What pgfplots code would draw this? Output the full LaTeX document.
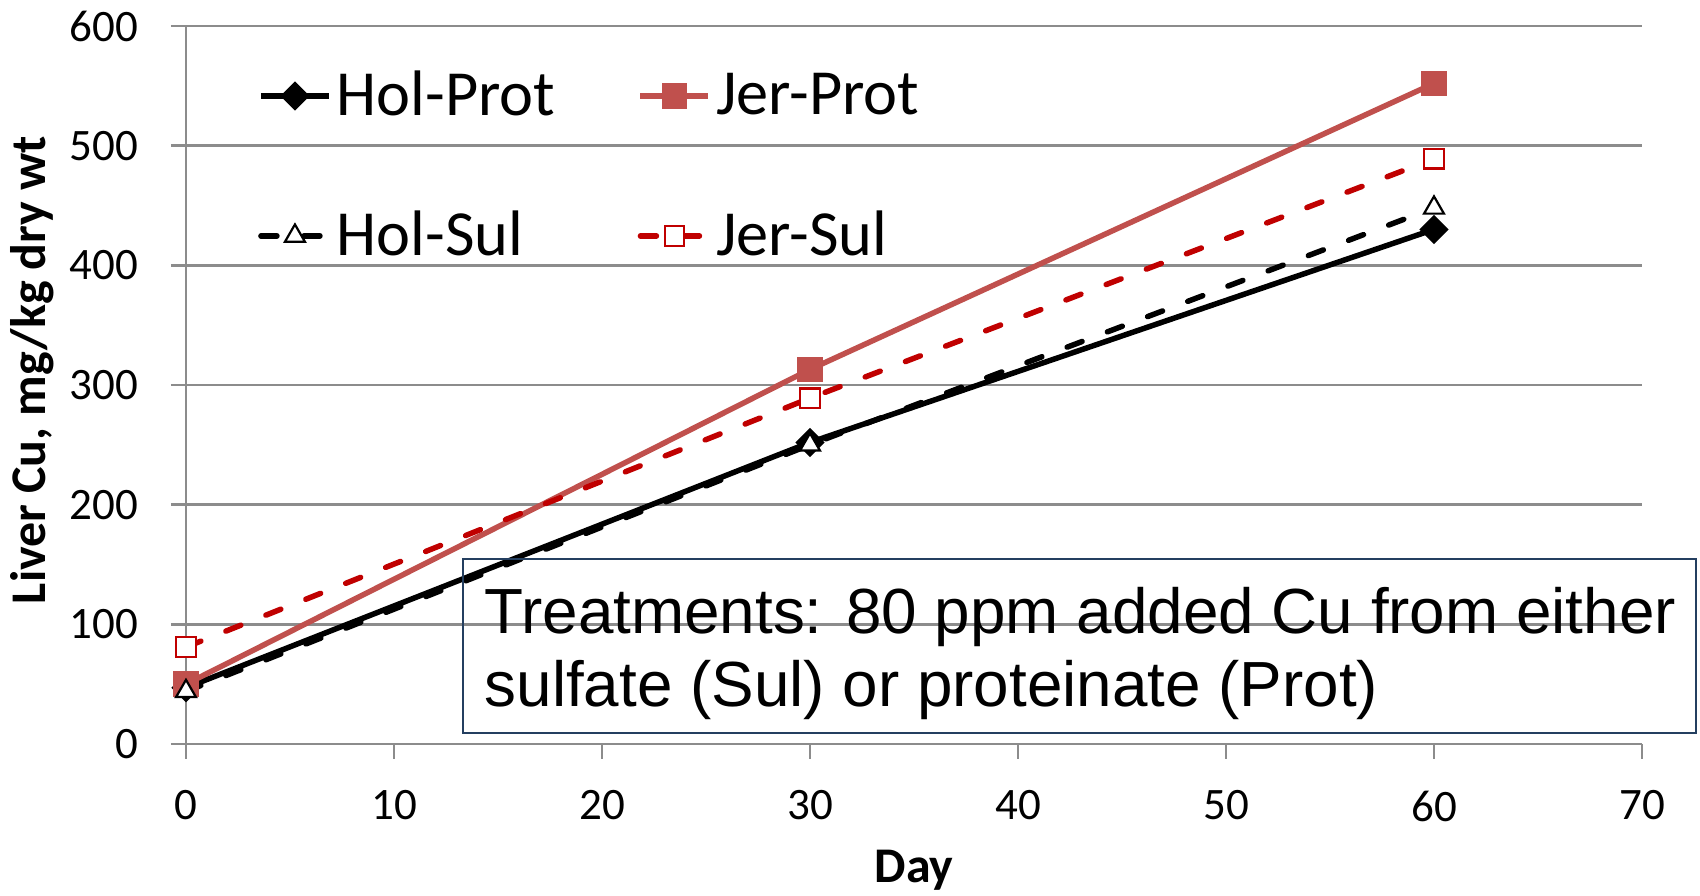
\documentclass[border=0pt]{standalone}
\usepackage{fontspec}
\setmainfont{Carlito}
\newfontfamily\arialfont{Liberation Sans}
\usepackage{pgfplots}
\pgfplotsset{compat=1.18}
\definecolor{jerprot}{HTML}{C0504D}
\definecolor{jersul}{HTML}{C00000}
\definecolor{boxcol}{HTML}{243F60}
\definecolor{gridc}{HTML}{8C8C8C}
\begin{document}
\begin{tikzpicture}
\path[use as bounding box] (-18.6mm,-15.2mm) rectangle (151.4mm,74.4mm);
\begin{axis}[
  at={(0,0)}, anchor=south west,
  scale only axis, width=145.6mm, height=71.8mm,
  xmin=0, xmax=70, ymin=0, ymax=600,
  xtick distance=10, ytick distance=100,
  axis x line*=bottom, axis y line*=left,
  axis line style={gridc, line width=0.25mm},
  ymajorgrids, grid style={gridc, line width=0.25mm},
  tick style={gridc, line width=0.25mm},
  tick align=outside, major tick length=1.5mm,
  /pgf/number format/assume math mode=true,
  ticklabel style={font=\fontsize{12.8}{15}\selectfont, inner sep=0pt},
  yticklabel shift=3.2mm, xticklabel shift=3.1mm,
  xlabel={Day}, ylabel={Liver Cu, mg/kg dry wt},
  label style={font=\bfseries\fontsize{14.2}{16}\selectfont},
  xlabel style={at={(axis description cs:0.5,-0.1755)}, anchor=center},
  ylabel style={at={(axis description cs:-0.1054,0.521)}, anchor=center},
  legend columns=2,
  legend image code/.code={\draw[mark repeat=2,mark phase=2,#1] plot coordinates {(0mm,0mm) (3.4mm,0mm) (6.8mm,0mm)};},
  legend style={draw=none, fill=none, inner sep=0pt,
    at={(axis description cs:0.0491,0.805)}, anchor=west,
    font=\fontsize{18.3}{21}\selectfont,
    nodes={inner sep=0.5mm}, row sep=8.0mm, column sep=0pt,
    cells={anchor=west}},
]
\addplot[black, line width=0.55mm, mark=square*, mark size=0.76mm,
  mark options={rotate=45, solid, fill=black}]
  coordinates {(0,47) (30,252) (60,430)};
\addlegendentry{\makebox[29.6mm][l]{Hol-Prot}}
\addplot[jerprot, line width=0.55mm, mark=square*, mark size=1mm,
  mark options={solid, fill=jerprot}]
  coordinates {(0,50) (30,313) (60,552)};
\addlegendentry{\makebox[29.6mm][l]{Jer-Prot}}
\addplot[black, line width=0.55mm, line cap=round, dash pattern=on 1.6mm off 2.7mm,
  mark=triangle*, mark size=1.15mm,
  mark options={solid, fill=white, draw=black, line width=0.22mm}]
  coordinates {(0,44) (30,250) (60,448)};
\addlegendentry{\makebox[29.6mm][l]{Hol-Sul}}
\addplot[jersul, line width=0.55mm, line cap=round, dash pattern=on 1.6mm off 2.7mm,
  mark=square*, mark size=0.97mm,
  mark options={solid, fill=white, draw=jersul, line width=0.22mm}]
  coordinates {(0,81) (30,289) (60,489)};
\addlegendentry{\makebox[29.6mm][l]{Jer-Sul}}
\end{axis}
\draw[boxcol, line width=0.25mm] (27.7mm,1.1mm) rectangle (151.0mm,18.5mm);
\node[anchor=base west, inner sep=0pt, font=\arialfont\fontsize{18.15}{21}\selectfont] at (29.8mm,11.0mm) {Treatments: 80 ppm added Cu from either};
\node[anchor=base west, inner sep=0pt, font=\arialfont\fontsize{18.15}{21}\selectfont] at (29.8mm,3.7mm) {sulfate (Sul) or proteinate (Prot)};
\end{tikzpicture}
\end{document}
